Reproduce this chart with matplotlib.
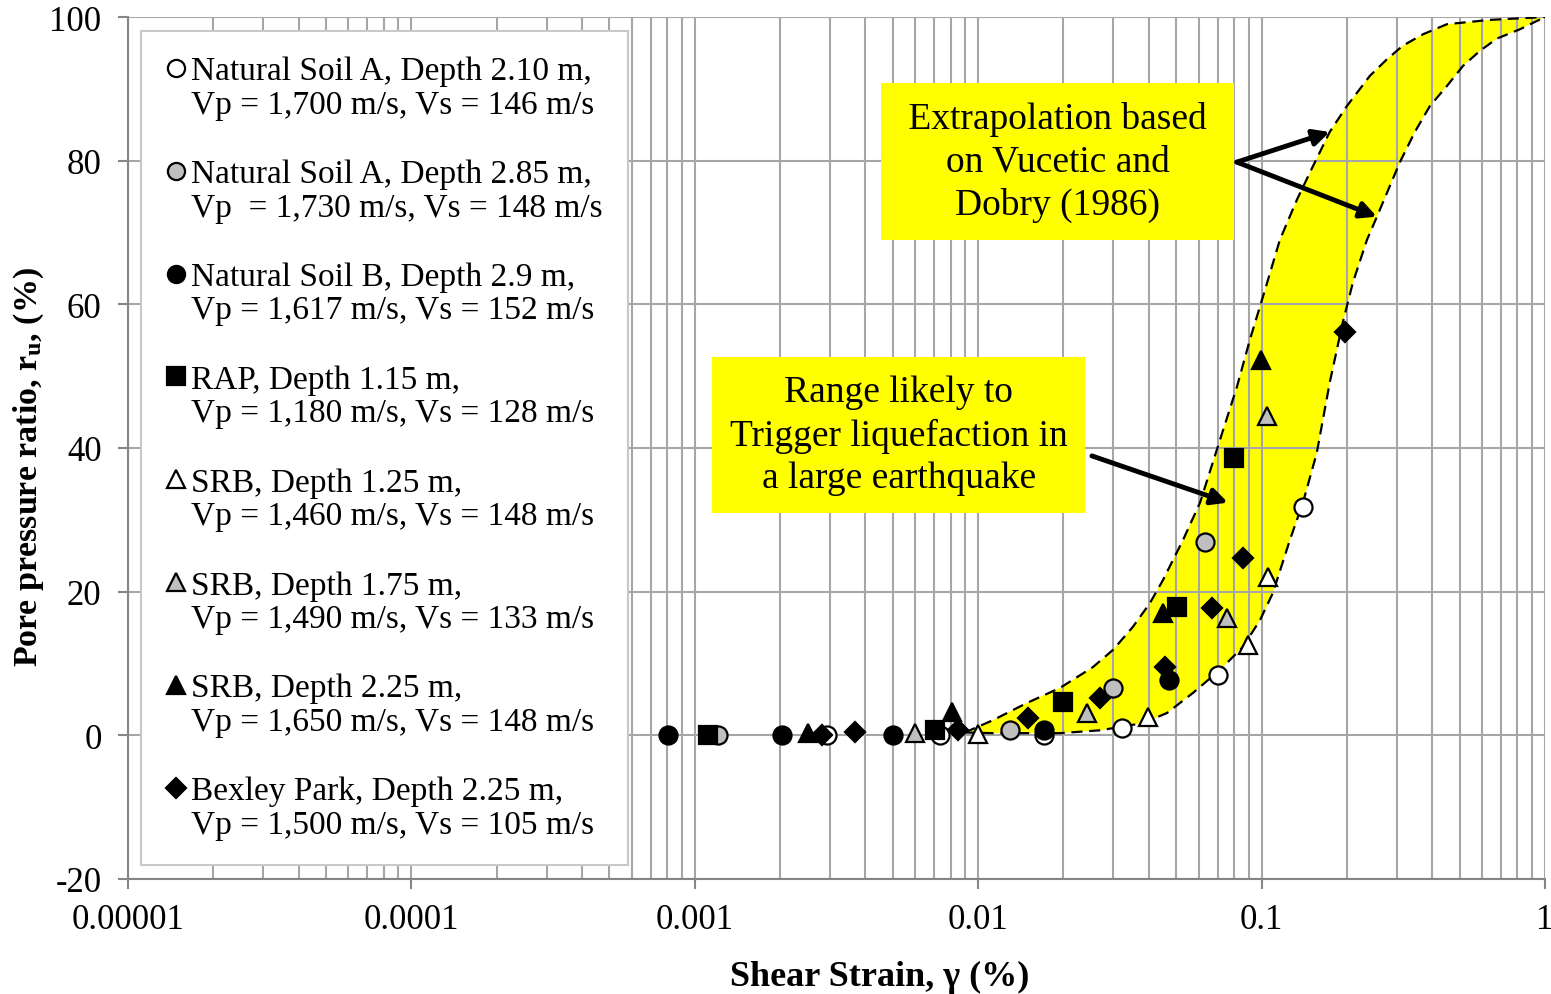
import numpy as np
import matplotlib
matplotlib.use("Agg")
import matplotlib.pyplot as plt
from matplotlib.legend_handler import HandlerLine2D

plt.rcParams['font.family'] = ['Liberation Serif', 'DejaVu Serif']
plt.rcParams['mathtext.default'] = 'regular'
plt.rcParams['axes.unicode_minus'] = False

# --- data (shear strain %, pore pressure ratio %) ---
soilA_210_x = [0.00292, 0.00733, 0.0171, 0.0322, 0.0702, 0.140]
soilA_210_y = [0.0, 0.0, 0.0, 1.0, 8.4, 31.8]
soilA_285_x = [0.00121, 0.01294, 0.0299, 0.0631]
soilA_285_y = [0.0, 0.7, 6.6, 26.9]
soilB_x = [0.000803, 0.00203, 0.0050, 0.01707, 0.0471]
soilB_y = [0.0, 0.0, 0.0, 0.7, 7.7]
rap_x = [0.00111, 0.00705, 0.0199, 0.0503, 0.0798]
rap_y = [0.0, 0.7, 4.6, 17.9, 38.6]
srb125_x = [0.0100, 0.0397, 0.0896, 0.1054]
srb125_y = [0.2, 2.5, 12.6, 22.0]
srb175_x = [0.0060, 0.0242, 0.0755, 0.1048]
srb175_y = [0.3, 3.1, 16.3, 44.4]
srb225_x = [0.00251, 0.00807, 0.0449, 0.0995]
srb225_y = [0.3, 3.2, 17.0, 52.3]
bexley_x = [0.00281, 0.00367, 0.0085, 0.0150, 0.0269, 0.0456, 0.0668, 0.0859, 0.197]
bexley_y = [0.0, 0.4, 0.8, 2.4, 5.2, 9.5, 17.7, 24.7, 56.2]

# band after Vucetic and Dobry (1986)
upper_x = [0.00897, 0.00935, 0.01127, 0.01486, 0.01945, 0.02541, 0.02992, 0.03516,
           0.04036, 0.04487, 0.05284, 0.06067, 0.07129, 0.08185, 0.09099, 0.1012,
           0.1161, 0.1334, 0.1517, 0.174, 0.200, 0.241, 0.2767, 0.315, 0.3715,
           0.451, 0.6397, 1.0]
upper_y = [0.4, 0.7, 2.1, 4.5, 6.6, 9.5, 11.9, 15.1,
           18.4, 21.6, 27.2, 32.4, 41.1, 48.5, 55.1, 61.1,
           69.0, 74.6, 79.2, 84.0, 87.6, 91.8, 94.1, 96.0, 97.6,
           99.0, 99.6, 100.0]
lower_x = [0.00897, 0.01127, 0.01945, 0.02692, 0.03819, 0.04634, 0.05728, 0.07129,
           0.0859, 0.09863, 0.1096, 0.1259, 0.1400, 0.1566, 0.174, 0.1935, 0.2099,
           0.2356, 0.2553, 0.3078, 0.3475, 0.3926, 0.451, 0.514, 0.5902, 0.677,
           0.8166, 1.0]
lower_y = [0.4, 0.3, 0.3, 0.7, 1.7, 3.1, 5.9, 9.1,
           12.3, 16.0, 19.8, 27.2, 32.4, 39.3, 49.1, 57.5, 63.0,
           69.0, 72.2, 79.8, 84.0, 87.6, 90.4, 93.2, 95.3, 97.0,
           98.3, 100.0]

labels = [
    "Natural Soil A, Depth 2.10 m,\nVp = 1,700 m/s, Vs = 146 m/s",
    "Natural Soil A, Depth 2.85 m,\nVp  = 1,730 m/s, Vs = 148 m/s",
    "Natural Soil B, Depth 2.9 m,\nVp = 1,617 m/s, Vs = 152 m/s",
    "RAP, Depth 1.15 m,\nVp = 1,180 m/s, Vs = 128 m/s",
    "SRB, Depth 1.25 m,\nVp = 1,460 m/s, Vs = 148 m/s",
    "SRB, Depth 1.75 m,\nVp = 1,490 m/s, Vs = 133 m/s",
    "SRB, Depth 2.25 m,\nVp = 1,650 m/s, Vs = 148 m/s",
    "Bexley Park, Depth 2.25 m,\nVp = 1,500 m/s, Vs = 105 m/s",
]


class FirstLineHandler(HandlerLine2D):
    # put the legend marker next to the first line of a two line label
    def create_artists(self, legend, orig_handle, xdescent, ydescent,
                       width, height, fontsize, trans):
        arts = super().create_artists(legend, orig_handle, xdescent, ydescent,
                                      width, height, fontsize, trans)
        for a in arts:
            a.set_ydata(np.asarray(a.get_ydata()) + 0.6 * fontsize)
        return arts


fig = plt.figure(figsize=(15.51, 9.95), dpi=100)
ax = fig.add_axes([0.0825, 0.1156, 0.9136, 0.8663])

ax.set_xscale('log')
ax.set_xlim(1e-5, 1)
ax.set_ylim(-20, 100)

# yellow band with dashed edges
ax.fill(np.concatenate([upper_x, lower_x[::-1]]),
        np.concatenate([upper_y, lower_y[::-1]]),
        color='#ffff00', lw=0, zorder=1)
ax.plot(upper_x, upper_y, color='black', lw=1.6, dashes=(5, 3), zorder=2)
ax.plot(lower_x, lower_y, color='black', lw=1.6, dashes=(5, 3), zorder=2)

ms = 13
mew = 1.6
series = [
    (soilA_210_x, soilA_210_y, 'o', 'white'),
    (soilA_285_x, soilA_285_y, 'o', '#bfbfbf'),
    (soilB_x, soilB_y, 'o', 'black'),
    (rap_x, rap_y, 's', 'black'),
    (srb125_x, srb125_y, '^', 'white'),
    (srb175_x, srb175_y, '^', '#bfbfbf'),
    (srb225_x, srb225_y, '^', 'black'),
    (bexley_x, bexley_y, 'D', 'black'),
]
handles = []
for (xs, ys, mk, fc), lab in zip(series, labels):
    size = ms * 0.8 if mk == 'D' else ms
    h, = ax.plot(xs, ys, linestyle='none', marker=mk, markersize=size,
                 markerfacecolor=fc, markeredgecolor='black', markeredgewidth=mew,
                 label=lab, zorder=3)
    handles.append(h)

# grid and axes styling
grid_c = '#a6a6a6'
ax.grid(True, which='major', axis='both', color=grid_c, lw=1.5)
ax.grid(True, which='minor', axis='x', color=grid_c, lw=1.5)
ax.set_yticks([-20, 0, 20, 40, 60, 80, 100])
ax.set_xticks([1e-5, 1e-4, 1e-3, 1e-2, 1e-1, 1])
ax.set_xticklabels(['0.00001', '0.0001', '0.001', '0.01', '0.1', '1'])
ax.tick_params(which='major', direction='out', length=7, width=1.5, color='#868686',
               labelsize=25)
ax.tick_params(axis='x', pad=10)
ax.tick_params(axis='y', pad=12)
ax.tick_params(which='minor', length=0)
for s in ['top', 'right']:
    ax.spines[s].set_visible(False)
for s in ['left', 'bottom']:
    ax.spines[s].set_color('#868686')
    ax.spines[s].set_linewidth(1.5)

ax.set_xlabel('Shear Strain, γ (%)', fontsize=26, fontweight='bold')
ax.set_ylabel('Pore pressure ratio, r$_u$, (%)', fontsize=24.5, fontweight='bold')
ax.xaxis.set_label_coords(0.5307, -0.094)
ax.yaxis.set_label_coords(-0.058, 0.479)

leg = ax.legend(handles=handles, loc='upper left', bbox_to_anchor=(0.0092, 0.9838),
                borderaxespad=0, fontsize=24, frameon=True, fancybox=False,
                edgecolor='#c8c8c8', framealpha=1, markerscale=0.95,
                handlelength=0.6, handletextpad=0.15, labelspacing=1.17,
                borderpad=0.75, handler_map={h: FirstLineHandler() for h in handles})
leg.get_frame().set_linewidth(1.5)
leg.set_zorder(5)
for t in leg.get_texts():
    t.set_linespacing(1.12)

# annotation boxes
box = dict(facecolor='#ffff00', edgecolor='none', pad=13)
ax.text(0.0191, 79.9, ' Extrapolation based \non Vucetic and\nDobry (1986)', fontsize=27,
        ha='center', va='center', linespacing=1.3, bbox=box, zorder=6)
ax.text(0.00524, 41.8, 'Range likely to\nTrigger liquefaction in\na large earthquake',
        fontsize=27, ha='center', va='center', linespacing=1.3, bbox=box, zorder=6)

arrow = dict(arrowstyle='-|>', color='black', lw=3.5, mutation_scale=24, shrinkA=0, shrinkB=0)
ax.annotate('', xy=(0.174, 84.0), xytext=(0.0818, 79.8), arrowprops=arrow, zorder=7)
ax.annotate('', xy=(0.2553, 72.2), xytext=(0.0818, 79.8), arrowprops=arrow, zorder=7)
ax.annotate('', xy=(0.0761, 32.4), xytext=(0.0252, 38.9), arrowprops=arrow, zorder=7)

fig.savefig('out.png', dpi=100)
